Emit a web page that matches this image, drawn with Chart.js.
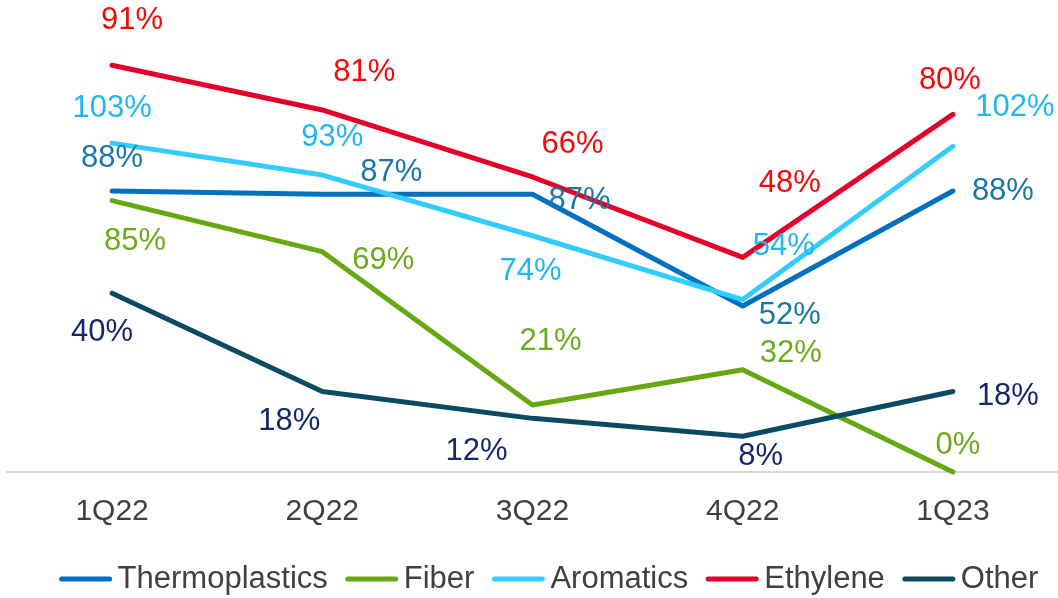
<!DOCTYPE html>
<html>
<head>
<meta charset="utf-8">
<script src="https://cdn.jsdelivr.net/npm/chart.js@4/dist/chart.umd.min.js"></script>
<style>
  body { margin: 0; background: #fff; }
  #wrap { width: 1058px; height: 598px; position: relative; }
</style>
</head>
<body>
<div id="wrap"><canvas id="lineChart"></canvas></div>
<script>
// quarters
const quarters = ['1Q22', '2Q22', '3Q22', '4Q22', '1Q23'];

// utilisation by segment, %
const thermoplastics = [88, 87, 87, 52, 88];
const fiber = [85, 69, 21, 32, 0];
const aromatics = [103, 93, 74, 54, 102];
// these two sit on the right-hand axis
const ethylene = [91, 81, 66, 48, 80];
const other = [40, 18, 12, 8, 18];

// where each value label sits relative to its point (dx, dy)
const thermoOffsets = [[0, -35], [69, -24], [47, 4], [47, 7], [50, -2]];
const fiberOffsets = [[23, 39], [61, 7], [18, -65], [48, -18], [5, -29]];
const aromOffsets = [[0, -37], [10, -40], [-2, 34], [41, -55], [62, -41]];
const ethOffsets = [[20, -47], [42, -39], [40, -35], [47, -76], [-3, -36]];
const otherOffsets = [[-10, 37], [-33, 28], [-56, 31], [18, 18], [55, 3]];

const FONT = "'Liberation Sans', Arial, sans-serif";
Chart.defaults.font.family = FONT;

function series(label, data, color, labelColor, offsets, axis, order) {
  return {
    label: label,
    data: data,
    borderColor: color,
    backgroundColor: color,
    borderWidth: 5,
    borderCapStyle: 'round',
    borderJoinStyle: 'round',
    pointRadius: 0,
    pointHoverRadius: 0,
    tension: 0,
    fill: false,
    clip: false,
    yAxisID: axis,
    order: order,
    labelColor: labelColor,
    labelOffsets: offsets
  };
}

// value labels next to every point
const valueLabels = {
  id: 'valueLabels',
  afterDatasetsDraw(chart) {
    const ctx = chart.ctx;
    ctx.save();
    ctx.font = '31px ' + FONT;
    ctx.textAlign = 'center';
    ctx.textBaseline = 'middle';
    chart.data.datasets.forEach(function (ds, i) {
      const meta = chart.getDatasetMeta(i);
      ctx.fillStyle = ds.labelColor;
      meta.data.forEach(function (pt, j) {
        const off = ds.labelOffsets[j];
        ctx.fillText(ds.data[j] + '%', pt.x + off[0], pt.y + off[1] + 2);
      });
    });
    ctx.restore();
  }
};

// legend row along the bottom, short thick line then name
const lineLegend = {
  id: 'lineLegend',
  afterDraw(chart) {
    const ctx = chart.ctx;
    const sw = 52, gapText = 6, gapItem = 18, y = 579;
    ctx.save();
    ctx.font = '31px ' + FONT;
    ctx.textBaseline = 'middle';
    const items = chart.data.datasets.map(function (ds) {
      return { ds: ds, w: ctx.measureText(ds.label).width };
    });
    let total = 0;
    items.forEach(function (it, k) {
      total += sw + gapText + it.w + (k < items.length - 1 ? gapItem : 0);
    });
    let x = 549 - total / 2;
    items.forEach(function (it) {
      ctx.strokeStyle = it.ds.borderColor;
      ctx.lineWidth = 5;
      ctx.lineCap = 'round';
      ctx.beginPath();
      ctx.moveTo(x + 2, y);
      ctx.lineTo(x + sw - 2, y);
      ctx.stroke();
      x += sw + gapText;
      ctx.fillStyle = '#404040';
      ctx.fillText(it.ds.label, x, y);
      x += it.w + gapItem;
    });
    ctx.restore();
  }
};

const chartData = {
  labels: quarters,
  datasets: [
    series('Thermoplastics', thermoplastics, '#0070C0', '#1B76A8', thermoOffsets, 'y', 5),
    series('Fiber', fiber, '#66A812', '#6AAA1E', fiberOffsets, 'y', 4),
    series('Aromatics', aromatics, '#33CCFF', '#22B6EE', aromOffsets, 'y', 3),
    series('Ethylene', ethylene, '#E4002B', '#F20A0A', ethOffsets, 'y1', 2),
    series('Other', other, '#0B4A63', '#13296B', otherOffsets, 'y1', 1)
  ]
};

const myChart = document.getElementById('lineChart');
const massPopChart = new Chart(myChart, {
  type: 'line',
  data: chartData,
  options: {
    responsive: true,
    maintainAspectRatio: false,
    animation: false,
    layout: { padding: { left: 7, right: 0, top: 25, bottom: 46 } },
    plugins: {
      legend: { display: false },
      tooltip: { enabled: false }
    },
    scales: {
      x: {
        offset: true,
        grid: { display: false, drawTicks: false },
        border: { display: true, color: '#D9D9D9', width: 2 },
        ticks: { color: '#404040', font: { size: 30 }, padding: 22 }
      },
      y: { display: false, min: 0, max: 140 },
      y1: { display: false, min: 0, max: 100, position: 'right' }
    }
  },
  plugins: [valueLabels, lineLegend]
});
</script>
</body>
</html>
